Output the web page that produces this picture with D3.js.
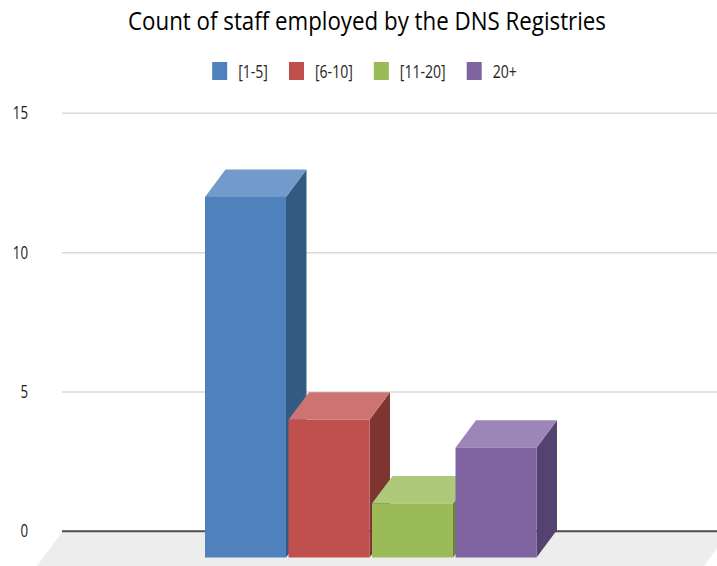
<!DOCTYPE html>
<html>
<head>
<meta charset="utf-8">
<script src="https://cdn.jsdelivr.net/npm/d3@7"></script>
<style>
  body { margin: 0; background: #fff; }
  svg { display: block; font-family: "Open Sans", "Noto Sans", sans-serif; }
</style>
</head>
<body>
<svg id="chart" width="717" height="566"></svg>
<script>
// Staff-size buckets and how many registries fall in each
const categories = ["[1-5]", "[6-10]", "[11-20]", "20+"];
const staffCounts = [12, 4, 1, 3];
const tickValues = [0, 5, 10, 15];
const titleText = "Count of staff employed by the DNS Registries";

// Face shading per series: front, top, side
const frontColors = ["#4f81bd", "#c0504d", "#9bbb59", "#8064a2"];
const topColors   = ["#729aca", "#cd7472", "#afc97b", "#9b86b7"];
const sideColors  = ["#335a82", "#7e3431", "#6a8239", "#544270"];

const W = 717, H = 566;
const svg = d3.select("#chart");

// Plot geometry
const plotLeft = 62, plotRight = 717;
const y = d3.scaleLinear().domain([0, 15]).range([531.3, 113.3]);
const x = d3.scaleBand().domain(categories).range([205, 536.5]).paddingInner(0.03).paddingOuter(0);
const depthX = 20.5, depthY = -27.5;      // 3D extrusion offset
const frontBase = y(0) + 26.2;            // front edge of the floor
const squeeze = 0.76;                     // horizontal text condensing

// Gridlines (back wall)
svg.append("g").selectAll("line")
  .data(tickValues.filter(v => v > 0))
  .join("line")
  .attr("x1", plotLeft).attr("x2", plotRight)
  .attr("y1", d => y(d)).attr("y2", d => y(d))
  .attr("stroke", "#d9d9d9").attr("stroke-width", 1.5);

// Floor
const floorTop = y(0) + 1;
const slope = -depthX / depthY;
svg.append("polygon")
  .attr("points", [
    [plotLeft, floorTop],
    [plotRight + 12, floorTop],
    [plotRight + 12 - slope * (H - floorTop), H],
    [plotLeft - slope * (H - floorTop), H]
  ].map(p => p.join(",")).join(" "))
  .attr("fill", "#ededed");

// Zero baseline
svg.append("line")
  .attr("x1", plotLeft).attr("x2", plotRight)
  .attr("y1", y(0)).attr("y2", y(0))
  .attr("stroke", "#4d4d4d").attr("stroke-width", 2);

// 3D bars, drawn left to right so each one overlaps its neighbour's side
const bars = svg.append("g").selectAll("g")
  .data(categories.map((c, i) => ({ c, v: staffCounts[i], i })))
  .join("g");

bars.each(function(d) {
  const g = d3.select(this);
  const x0 = x(d.c), x1 = x0 + x.bandwidth();
  const yt = y(d.v), yb = frontBase;
  const pts = a => a.map(p => p.join(",")).join(" ");
  g.append("polygon")
    .attr("points", pts([[x1, yt], [x1 + depthX, yt + depthY], [x1 + depthX, yb + depthY], [x1, yb]]))
    .attr("fill", sideColors[d.i]);
  g.append("polygon")
    .attr("points", pts([[x0, yt], [x0 + depthX, yt + depthY], [x1 + depthX, yt + depthY], [x1, yt]]))
    .attr("fill", topColors[d.i]);
  g.append("rect")
    .attr("x", x0).attr("y", yt)
    .attr("width", x1 - x0).attr("height", yb - yt)
    .attr("fill", frontColors[d.i]);
});

// Value axis labels
const axis = svg.append("g")
  .attr("transform", "translate(28,0)")
  .call(d3.axisLeft(y).tickValues(tickValues).tickSize(0).tickPadding(0).tickFormat(d3.format("d")));
axis.select(".domain").remove();
axis.selectAll("text")
  .attr("font-family", "\"Open Sans\", \"Noto Sans\", sans-serif")
  .attr("font-size", 17.5)
  .attr("fill", "#1a1a1a")
  .each(function() {
    this.setAttribute("textLength", this.getComputedTextLength() * squeeze);
    this.setAttribute("lengthAdjust", "spacingAndGlyphs");
  });

// Title
svg.append("text")
  .attr("x", 128).attr("y", 30)
  .attr("font-size", 25)
  .attr("fill", "#000")
  .attr("textLength", 478)
  .attr("lengthAdjust", "spacingAndGlyphs")
  .text(titleText);

// Legend
const legend = svg.append("g");
let lx = 0;
categories.forEach((c, i) => {
  legend.append("rect")
    .attr("x", lx).attr("y", 62)
    .attr("width", 15).attr("height", 18)
    .attr("fill", frontColors[i]);
  const t = legend.append("text")
    .attr("x", lx + 26).attr("y", 77.5)
    .attr("font-size", 18.5)
    .attr("fill", "#262626")
    .text(c);
  const w = t.node().getComputedTextLength() * squeeze;
  t.attr("textLength", w).attr("lengthAdjust", "spacingAndGlyphs");
  lx += 26 + w + 21;
});
const legendWidth = lx - 21;
legend.attr("transform", `translate(${364.5 - legendWidth / 2},0)`);
</script>
</body>
</html>
